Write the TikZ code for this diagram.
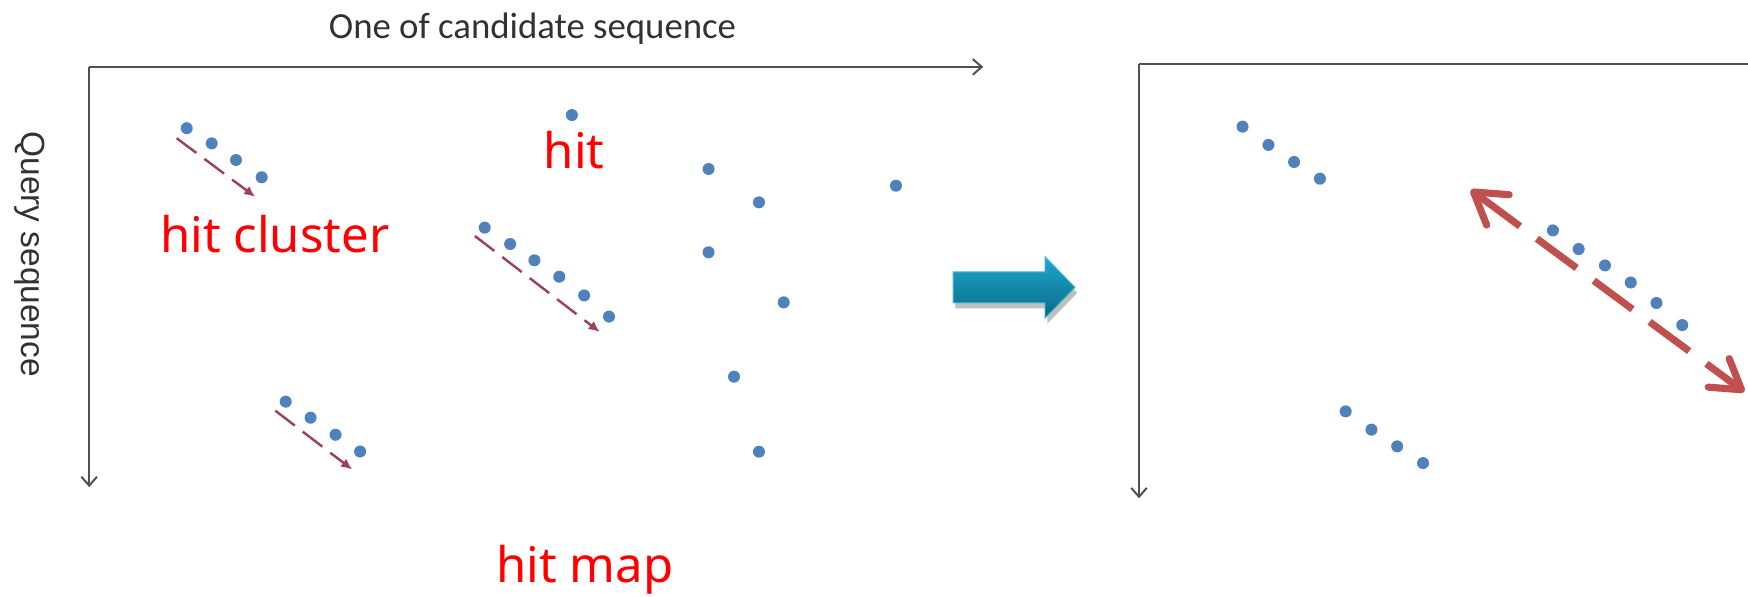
\documentclass[tikz,border=0pt]{standalone}
\usepackage{fontspec}
\usetikzlibrary{arrows.meta,shadows}
\newfontfamily\redfont{Noto Sans}
\newfontfamily\titfont{Carlito}
\newfontfamily\axfont{Liberation Sans}
\definecolor{dotblue}{RGB}{79,129,189}
\definecolor{axisgray}{RGB}{80,80,80}
\definecolor{txtgray}{RGB}{50,50,50}
\definecolor{hitred}{RGB}{155,65,95}
\definecolor{bigred}{RGB}{192,80,77}
\definecolor{arrtop}{RGB}{30,168,204}
\definecolor{arrbot}{RGB}{10,105,135}
\definecolor{arredge}{RGB}{70,185,215}
\tikzset{
  dot/.style={circle, fill=dotblue, inner sep=0pt, minimum size=5.4pt},
  axisline/.style={draw=axisgray, line width=0.9pt},
  axistip/.style={-{Straight Barb[length=4pt,width=7pt]}},
  hitarrow/.style={draw=hitred, line width=1.1pt, dash pattern=on 11pt off 4.5pt,
    -{Latex[length=5pt,width=4.5pt]}},
  bigdash/.style={draw=bigred, line width=3.2pt,
    dash pattern=on 25.9pt off 9.4pt on 22.15pt off 9.55pt on 21.6pt off 9.55pt on 22.05pt off 9.6pt on 30pt},
  chevron/.style={draw=bigred, line width=3.2pt, line join=round, line cap=round},
  redlabel/.style={text=red, font=\redfont\fontsize{22}{26}\selectfont, inner sep=0pt, anchor=base},
  bluearrow/.style={top color=arrtop, bottom color=arrbot, draw=arredge, line width=0.4pt,
    drop shadow={shadow xshift=1pt, shadow yshift=-2.5pt, fill=black, opacity=0.25}}
}
\begin{document}
\begin{tikzpicture}[x=0.5pt, y=-0.5pt]
\useasboundingbox (0,0) rectangle (1568,535);

% ---------- left panel axes ----------
\coordinate (O1) at (80,60);
\coordinate (X1) at (882,60);
\coordinate (Y1) at (80,437);
\draw[axisline, axistip] (O1) -- (X1);
\draw[axisline, axistip] (O1) -- (Y1);

\node[font=\titfont\fontsize{16.5}{20}\selectfont, text=txtgray, inner sep=0pt, anchor=base] (title) at (477.7,34.4) {One of candidate sequence};
\node[font=\axfont\fontsize{15}{18}\selectfont, text=txtgray, inner sep=0pt, rotate=-90] (query) at (27,228) {Query sequence};

% ---------- left panel dots ----------
\foreach \n/\x/\y in {a1/167.5/115, a2/189.9/128.6, a3/211.7/143.5, a4/234.7/159,
  b1/434.8/204.2, b2/457.6/218.9, b3/479.4/233.5, b4/501.7/248.2, b5/524/265, b6/546.3/284,
  c1/256.3/360.3, c2/278.6/374.7, c3/301/390, c4/323/405,
  h1/513/103.2, h2/635.6/151.6, h3/680.8/181.5, h4/803.7/166.6, h5/635.6/226.3,
  h6/703/271.2, h7/658.4/337.9, h8/680.8/405.2}
  \node[dot] (\n) at (\x,\y) {};

% small dashed cluster arrows
\coordinate (p1s) at (158.5,124);  \coordinate (p1e) at (229,176.6);
\coordinate (p2s) at (426,211.7);  \coordinate (p2e) at (538,297.8);
\coordinate (p3s) at (247,368.4);  \coordinate (p3e) at (316,421.2);
\draw[hitarrow] (p1s) -- (p1e);
\draw[hitarrow] (p2s) -- (p2e);
\draw[hitarrow] (p3s) -- (p3e);

% red labels
\node[redlabel] (lhit) at (515,151) {hit};
\node[redlabel] (lcluster) at (246.5,226.7) {hit cluster};
\node[redlabel] (lmap) at (524.7,522.5) {hit map};

% ---------- blue transition arrow ----------
\path[bluearrow] (855,243.9) -- (937.4,243.9) -- (937.4,230.2) -- (964.3,257.8)
  -- (937.4,285.4) -- (937.4,271.7) -- (855,271.7) -- cycle;

% ---------- right panel ----------
\coordinate (O2) at (1021.7,57.6);
\coordinate (X2) at (1568,57.6);
\coordinate (Y2) at (1021.7,447);
\draw[axisline] (O2) -- (X2);
\draw[axisline, axistip] (O2) -- (Y2);

\foreach \n/\x/\y in {r1/1114.6/113.6, r2/1137.8/130, r3/1160.8/145.3, r4/1184/160.3,
  s1/1393/206.7, s2/1416.1/223.4, s3/1439.7/238.1, s4/1462.8/253.4, s5/1485.9/271.8, s6/1509/291.6,
  t1/1207.1/369, t2/1230.2/385.4, t3/1253.3/400.4, t4/1276.5/415.4}
  \node[dot] (\n) at (\x,\y) {};

% big red double arrow
\coordinate (BL) at (1321.8,172.2);
\coordinate (BR) at (1562.2,349.6);
\draw[bigdash] (BL) -- (BR);
\draw[chevron] (BL) ++(-4.4:16pt) -- (BL) -- ++(-68.4:16pt);
\draw[chevron] (BR) ++(175.6:15pt) -- (BR) -- ++(111.6:15pt);
\end{tikzpicture}
\end{document}
